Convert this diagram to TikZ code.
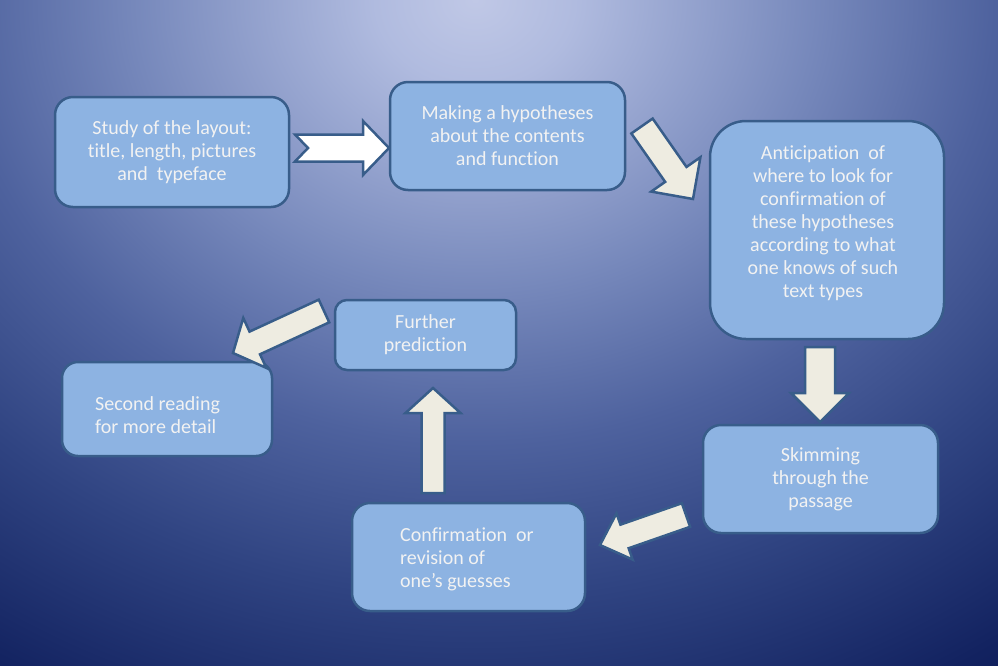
\documentclass[tikz,border=0pt]{standalone}
\usepackage{fontspec}
\setmainfont{Carlito}[Ligatures=NoCommon]
\usetikzlibrary{calc}
\definecolor{boxfill}{RGB}{141,179,226}
\definecolor{boxline}{RGB}{56,93,138}
\definecolor{arrfill}{RGB}{238,236,225}
\definecolor{txtcol}{RGB}{242,242,242}
\definecolor{bgdark}{RGB}{12,28,88}
\pgfdeclareradialshading{bgshade}{\pgfpoint{0bp}{0bp}}{%
rgb(0bp)=(0.753,0.784,0.902);
rgb(2.5bp)=(0.690,0.733,0.875);
rgb(8.5bp)=(0.465,0.535,0.735);
rgb(13bp)=(0.306,0.384,0.620);
rgb(17.5bp)=(0.188,0.267,0.510);
rgb(23bp)=(0.071,0.133,0.376);
rgb(25bp)=(0.047,0.110,0.345);
rgb(50bp)=(0.047,0.110,0.345)}
\newcommand\blockarrow[7]{%
  \coordinate (hb) at ($(#3)!#6!(#2)$);
  \draw[arr,#1] ($(#2)!#4!90:(#3)$) -- ($(hb)!#4!90:(#3)$) -- ($(hb)!#5!90:(#3)$)
    -- (#3) -- ($(hb)!#5!-90:(#3)$) -- ($(hb)!#4!-90:(#3)$) -- ($(#2)!#4!-90:(#3)$)
    -- ($(#2)!#7!(#3)$) -- cycle;}
\begin{document}
\begin{tikzpicture}[x=1pt,y=-1pt,
  box/.style={draw=boxline, line width=2.5pt, fill=boxfill, rounded corners=18pt,
    text=txtcol, font=\fontsize{20}{23}\selectfont, align=center, inner sep=0pt},
  txt/.style={text=txtcol, font=\fontsize{20}{23}\selectfont, inner sep=0pt},
  arr/.style={draw=boxline, line width=2.5pt, fill=arrfill, line join=miter}]
\useasboundingbox (0,0) rectangle (998,665);
\begin{scope}
  \clip (0,0) rectangle (998,665);
  \fill[bgdark] (0,0) rectangle (998,665);
  \shade[shading=bgshade] (475,0) ellipse [x radius=1000pt, y radius=850pt];
\end{scope}

% boxes
\node[box, minimum width=234pt, minimum height=110pt] (b1) at (172,152)
  {Study of the layout:\\title, length, pictures\\and\ \ typeface};
\node[box, minimum width=235pt, minimum height=108pt] (b2) at (507.5,136)
  {Making a hypotheses\\about the contents\\and function};
\node[box, minimum width=234pt, minimum height=218pt, rounded corners=36pt] (b3) at (827,230) {};
\node[txt, align=center] (t3) at ([shift={(-4,-7)}]b3.center)
  {Anticipation\ \ of\\where to look for\\confirmation of\\these hypotheses\\according to what\\one knows of such\\text types};
\node[box, minimum width=181pt, minimum height=70pt, rounded corners=12pt] (b4) at (425.5,335)
  {Further\\prediction};
\node[box, minimum width=210pt, minimum height=94pt, rounded corners=16pt] (b5) at (167,409) {};
\node[txt, align=left, anchor=west] (t5) at (95,415) {Second reading\\for more detail};
\node[box, minimum width=235pt, minimum height=108pt] (b6) at (820.5,479)
  {Skimming\\through the\\passage};
\node[box, minimum width=233pt, minimum height=108pt] (b7) at (468.5,557) {};
\node[txt, align=left, anchor=west] (t7) at (400,559) {Confirmation\ \ or\\revision of\\one’s guesses};

% block arrows
\coordinate (a1s) at (295,148);  \coordinate (a1e) at (389,148);
\coordinate (a2s) at (642,126);  \coordinate (a2e) at (693,199);
\coordinate (a3s) at (820,347);  \coordinate (a3e) at (820,422);
\coordinate (a4s) at (686,515);  \coordinate (a4e) at (600,545);
\coordinate (a5s) at (433,493);  \coordinate (a5e) at (433,388);
\coordinate (a6s) at (324,311);  \coordinate (a6e) at (233,353);

\blockarrow{fill=white}{a1s}{a1e}{13.5pt}{27pt}{26pt}{13pt}
\blockarrow{}{a2s}{a2e}{13pt}{30pt}{30pt}{0pt}
\blockarrow{}{a3s}{a3e}{15pt}{29pt}{29pt}{0pt}
\blockarrow{}{a4s}{a4e}{12.5pt}{24.5pt}{26pt}{0pt}
\blockarrow{}{a5s}{a5e}{11.5pt}{27.5pt}{25pt}{0pt}
\blockarrow{}{a6s}{a6e}{12.5pt}{27.5pt}{24pt}{0pt}
\end{tikzpicture}
\end{document}
